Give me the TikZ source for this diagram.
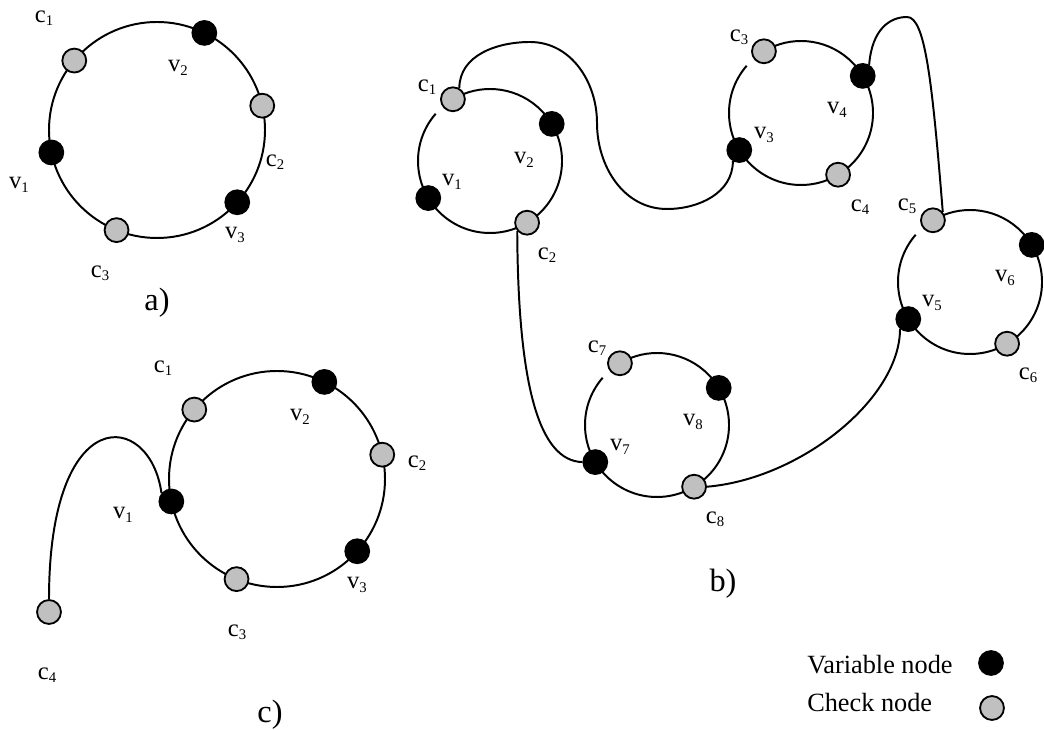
\documentclass[tikz,border=0pt]{standalone}
\usepackage{fontspec}
\setmainfont{Liberation Serif}
\usetikzlibrary{calc}
\definecolor{chkgray}{RGB}{192,192,192}
\newcommand{\lbl}[2]{#1\raisebox{-2.4pt}{\fontsize{10.5}{12}\selectfont#2}}
\tikzset{
  ring/.style={line width=1.4pt},
  var/.style={circle,draw=black,fill=black,line width=1.3pt,inner sep=0pt,minimum size=17pt},
  chk/.style={var,fill=chkgray},
  lab/.style={font=\fontsize{17.5}{20}\selectfont,inner sep=0pt},
  panel/.style={font=\fontsize{23}{26}\selectfont,inner sep=0pt},
  leg/.style={font=\fontsize{18.7}{22}\selectfont,inner sep=0pt,anchor=west},
}
\begin{document}
\begin{tikzpicture}[x=0.025cm,y=0.025cm]
  \useasboundingbox (0,0) rectangle (1044,729);
  % a)
  \coordinate (A) at (157,599);
  \draw[ring] (A) circle[radius=108];
  \node[chk] (ac1) at ($(A)+(140:108)$) {};
  \node[var] (av2) at ($(A)+(64:108)$) {};
  \node[chk] (ac2) at ($(A)+(13:108)$) {};
  \node[var] (av3) at ($(A)+(-42:108)$) {};
  \node[chk] (ac3) at ($(A)+(-112:108)$) {};
  \node[var] (av1) at ($(A)+(192:108)$) {};
  \node[lab] (ac1-l) at (44,711) {\lbl{c}{1}};
  \node[lab] (av2-l) at (178,661) {\lbl{v}{2}};
  \node[lab] (ac2-l) at (275,567) {\lbl{c}{2}};
  \node[lab] (av3-l) at (235,494) {\lbl{v}{3}};
  \node[lab] (ac3-l) at (100,456) {\lbl{c}{3}};
  \node[lab] (av1-l) at (19,544) {\lbl{v}{1}};
  \node[panel] (a-cap) at (157,426) {a)};

  % b)
  \coordinate (B1) at (490,568);
  \coordinate (B2) at (801,616);
  \coordinate (B3) at (970,447);
  \coordinate (B4) at (657,304);
  \foreach \c in {B1,B2,B3,B4}
    \draw[ring] ($(\c)+(139:72)$) arc[start angle=139,end angle=481,radius=72];
  \node[chk] (bc1) at ($(B1)+(121:72)$) {};
  \node[var] (bv2) at ($(B1)+(31:72)$) {};
  \node[chk] (bc2) at ($(B1)+(-59:72)$) {};
  \node[var] (bv1) at ($(B1)+(211:72)$) {};
  \node[chk] (bc3) at ($(B2)+(121:72)$) {};
  \node[var] (bv4) at ($(B2)+(31:72)$) {};
  \node[chk] (bc4) at ($(B2)+(-59:72)$) {};
  \node[var] (bv3) at ($(B2)+(211:72)$) {};
  \node[chk] (bc5) at ($(B3)+(121:72)$) {};
  \node[var] (bv6) at ($(B3)+(31:72)$) {};
  \node[chk] (bc6) at ($(B3)+(-59:72)$) {};
  \node[var] (bv5) at ($(B3)+(211:72)$) {};
  \node[chk] (bc7) at ($(B4)+(121:72)$) {};
  \node[var] (bv8) at ($(B4)+(31:72)$) {};
  \node[chk] (bc8) at ($(B4)+(-59:72)$) {};
  \node[var] (bv7) at ($(B4)+(211:72)$) {};
  \draw[ring] (bc1.60) to[out=90,in=180] (530,687) to[out=0,in=90] (597,606)
    to[out=-90,in=180] (667,520) to[out=0,in=-90] (bv3.-120);
  \draw[ring] (bv4.60) .. controls (872,700) and (890,712) .. (907,712)
    .. controls (925,712) and (932,650) .. (bc5.40);
  \draw[ring] (bc2.-140) .. controls (518,340) and (540,268) .. (bv7.west);
  \draw[ring] (bc8.east) .. controls (800,250) and (900,330) .. (bv5.-130);
  \node[lab] (bc1-l) at (427,642) {\lbl{c}{1}};
  \node[lab] (bv2-l) at (524,569) {\lbl{v}{2}};
  \node[lab] (bv1-l) at (452,547) {\lbl{v}{1}};
  \node[lab] (bc2-l) at (547,474) {\lbl{c}{2}};
  \node[lab] (bc3-l) at (739,692) {\lbl{c}{3}};
  \node[lab] (bv4-l) at (837,619) {\lbl{v}{4}};
  \node[lab] (bv3-l) at (764,594) {\lbl{v}{3}};
  \node[lab] (bc4-l) at (860,522) {\lbl{c}{4}};
  \node[lab] (bc5-l) at (907,523) {\lbl{c}{5}};
  \node[lab] (bv6-l) at (1005,451) {\lbl{v}{6}};
  \node[lab] (bv5-l) at (932,426) {\lbl{v}{5}};
  \node[lab] (bc6-l) at (1028,354) {\lbl{c}{6}};
  \node[lab] (bc7-l) at (597,381) {\lbl{c}{7}};
  \node[lab] (bv8-l) at (693,307) {\lbl{v}{8}};
  \node[lab] (bv7-l) at (620,282) {\lbl{v}{7}};
  \node[lab] (bc8-l) at (715,210) {\lbl{c}{8}};
  \node[panel] (b-cap) at (723,145) {b)};

  % c)
  \coordinate (C) at (277,250);
  \draw[ring] (C) circle[radius=108];
  \node[chk] (cc1) at ($(C)+(140:108)$) {};
  \node[var] (cv2) at ($(C)+(64:108)$) {};
  \node[chk] (cc2) at ($(C)+(13:108)$) {};
  \node[var] (cv3) at ($(C)+(-42:108)$) {};
  \node[chk] (cc3) at ($(C)+(-112:108)$) {};
  \node[var] (cv1) at ($(C)+(192:108)$) {};
  \node[chk] (cc4) at (49,117) {};
  \draw[ring] (cv1.140) .. controls (150,319) and (49,329) .. (cc4.north);
  \node[lab] (cc1-l) at (163,361) {\lbl{c}{1}};
  \node[lab] (cv2-l) at (300,312) {\lbl{v}{2}};
  \node[lab] (cc2-l) at (417,266) {\lbl{c}{2}};
  \node[lab] (cv3-l) at (357,144) {\lbl{v}{3}};
  \node[lab] (cc3-l) at (237,97) {\lbl{c}{3}};
  \node[lab] (cv1-l) at (123,214) {\lbl{v}{1}};
  \node[lab] (cc4-l) at (47,54) {\lbl{c}{4}};
  \node[panel] (c-cap) at (270,14) {c)};

  % legend
  \node[leg] (leg-v) at (807,64) {Variable node};
  \node[var] (leg-vn) at (991,66) {};
  \node[leg] (leg-c) at (807,26) {Check node};
  \node[chk] (leg-cn) at (992,21) {};
\end{tikzpicture}
\end{document}
